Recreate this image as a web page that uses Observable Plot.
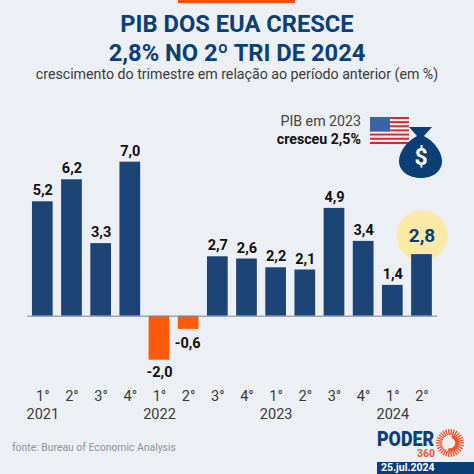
<!DOCTYPE html>
<html><head><meta charset="utf-8">
<script src="https://cdn.jsdelivr.net/npm/d3@7"></script>
<script src="https://cdn.jsdelivr.net/npm/@observablehq/plot@0.6"></script>
<style>
html,body{margin:0;padding:0;background:#eceff3;}
#page{position:relative;width:474px;height:474px;overflow:hidden;background:#eceff3;font-family:Roboto,sans-serif;}
#page>*{position:absolute;}
#topbar{left:178px;top:0;width:117px;height:3px;background:#ff4c12;}
.t{left:0;width:474px;text-align:center;color:#0a3f76;font-weight:700;font-size:23.7px;line-height:28px;}
#sub{left:0;width:474px;text-align:center;color:#3c3c3c;font-size:14.2px;line-height:16px;top:66px;}
#note{right:113px;top:112px;text-align:right;font-size:14.2px;line-height:18px;color:#444;}
#note b{color:#111;}
#fonte{left:12px;top:441px;font-size:10.4px;line-height:14px;color:#8c939b;}
#date{left:377px;top:462px;width:97px;height:12px;background:#0a3f76;color:#fff;font-weight:700;font-size:10.5px;line-height:12px;padding-left:4px;box-sizing:border-box;}
#plot{left:0;top:100px;}
</style></head><body>
<div id="page">
<div id="topbar"></div>
<div class="t" style="top:10px">PIB DOS EUA CRESCE</div>
<div class="t" style="top:39px">2,8% NO 2º TRI DE 2024</div>
<div id="sub">crescimento do trimestre em relação ao período anterior (em %)</div>
<div id="plot"></div>
<div id="note">PIB em 2023<br><b>cresceu 2,5%</b></div>
<svg id="flag" style="left:370px;top:117px" width="39" height="27" viewBox="0 0 39 27"></svg>
<svg id="bag" style="left:398px;top:127px" width="46" height="52" viewBox="0 0 46 52">
<path fill="#0a3f76" d="M11 0H34L26 9C36 14 44 25 44 34C44 45 34 51 23 51C12 51 1 45 1 34C1 25 9 14 19 9Z"/>
<text x="23" y="38" text-anchor="middle" fill="#fff" font-family="Roboto" font-weight="700" font-size="23">$</text>
</svg>
<div id="fonte">fonte: Bureau of Economic Analysis</div>
<svg id="logo" style="left:376px;top:428px;overflow:visible" width="70" height="32" viewBox="0 0 70 32">
<text x="1" y="18" textLength="57" lengthAdjust="spacingAndGlyphs" fill="#0a3f76" font-family="Roboto" font-weight="900" font-size="20">PODER</text>
<text x="41" y="28.5" textLength="18" lengthAdjust="spacingAndGlyphs" fill="#f0562a" font-family="Roboto" font-weight="700" font-size="11.5">360</text>
</svg>
<svg id="sun" style="left:435px;top:428px" width="30" height="30" viewBox="-15 -15 30 30"></svg>
<div id="date">25.jul.2024</div>
</div>
<script>
const quarters = ["1°","2°","3°","4°","1°","2°","3°","4°","1°","2°","3°","4°","1°","2°"];
const years = [2021,2021,2021,2021,2022,2022,2022,2022,2023,2023,2023,2023,2024,2024];
const values = [5.2,6.2,3.3,7.0,-2.0,-0.6,2.7,2.6,2.2,2.1,4.9,3.4,1.4,2.8];

const rows = values.map((v,i)=>({key:i,q:quarters[i],year:years[i],v,
  firstOfYear:i===0||years[i-1]!==years[i],last:i===values.length-1}));
const fmt = v => v.toFixed(1).replace(".",",");
const font = "Roboto, sans-serif";
const H = 330, zeroY = 215.7, pxPerUnit = 22;
const inkColor = "#111";
const chart = Plot.plot({
  width:474,height:H,
  marginLeft:23.5,marginRight:33.7,marginTop:0,marginBottom:0,
  style:{background:"transparent",fontFamily:font,overflow:"visible"},
  x:{type:"band",domain:d3.range(values.length),padding:0.29,round:false,axis:null},
  y:{domain:[-(H-zeroY)/pxPerUnit,zeroY/pxPerUnit],range:[H,0],axis:null},
  marks:[
    Plot.dot(rows.filter(d=>d.last),{x:"key",y:"v",r:25.5,dy:-19,fill:"#fde9a6"}),
    Plot.barY(rows,{x:"key",y:"v",fill:d=>d.v<0?"#ff5a0a":"#1d4477"}),
    Plot.ruleY([0],{stroke:"#7c8692",strokeWidth:1,insetLeft:3.5,insetRight:3}),
    Plot.text(rows.filter(d=>!d.last&&d.v>=0),{x:"key",y:"v",text:d=>fmt(d.v),dy:-11,fontWeight:700,fontSize:14.5,fill:inkColor}),
    Plot.text(rows.filter(d=>d.v<0&&d.v>-1),{x:"key",y:"v",text:d=>fmt(d.v),dy:14,dx:-1,fontWeight:700,fontSize:14.5,fill:inkColor}),
    Plot.text(rows.filter(d=>d.v<=-1),{x:"key",y:"v",text:d=>fmt(d.v),dy:12,fontWeight:700,fontSize:14.5,fill:inkColor}),
    Plot.text(rows.filter(d=>d.last),{x:"key",y:"v",text:d=>fmt(d.v),dy:-19,fontWeight:700,fontSize:19,fill:"#0a3f76"}),
    Plot.text(rows,{x:"key",text:"q",frameAnchor:"bottom",dy:-34,lineAnchor:"middle",fontSize:14.5,fill:"#3a3a3a"}),
    Plot.text(rows.filter(d=>d.firstOfYear),{x:"key",text:d=>String(d.year),frameAnchor:"bottom",dy:-16,lineAnchor:"middle",fontSize:14.5,fill:"#3a3a3a"})
  ]
});
document.getElementById("plot").append(chart);

// decorative icons
const flag = d3.select("#flag");
d3.range(13).forEach(i=>flag.append("rect").attr("x",0).attr("y",i*27/13).attr("width",39).attr("height",27/13+.05).attr("fill",i%2?"#f4f5f7":"#d6262f"));
flag.append("rect").attr("width",20).attr("height",14.5).attr("fill","#3a64a8");
const sun = d3.select("#sun");
d3.range(30).forEach(i=>{const a=i/30*2*Math.PI,c=Math.cos(a),s=Math.sin(a);
  sun.append("line").attr("x1",c*8).attr("y1",s*8).attr("x2",c*14).attr("y2",s*14).attr("stroke","#f0562a").attr("stroke-width",1.4);});
sun.append("path").attr("fill","none").attr("stroke","#f0562a").attr("stroke-width",3.5)
  .attr("d",d3.arc()({innerRadius:7,outerRadius:7,startAngle:0.3,endAngle:3.4}));
</script>
</body></html>
